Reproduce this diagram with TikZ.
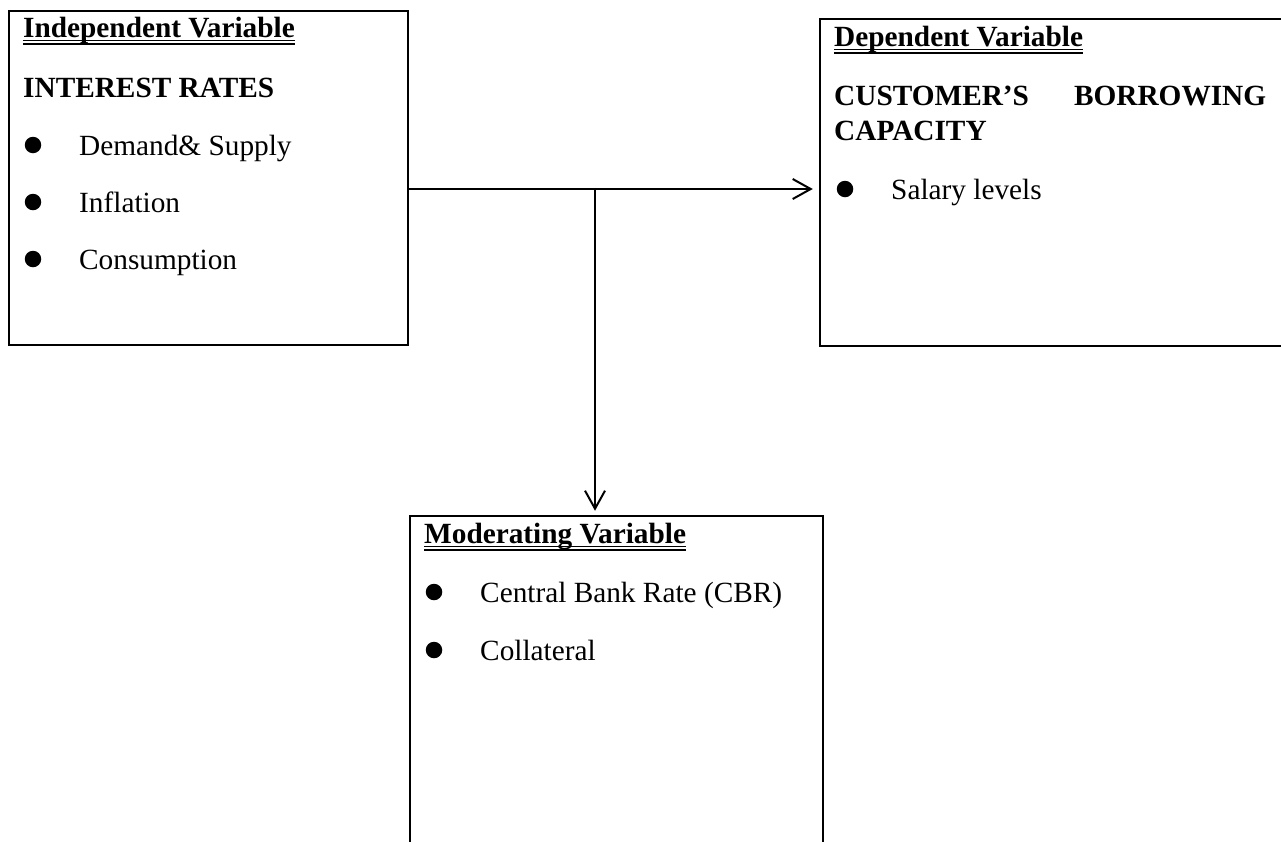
\documentclass[tikz,border=0pt]{standalone}
\usepackage{fontspec}
\setmainfont{Liberation Serif}
\usetikzlibrary{arrows.meta}
\tikzset{box/.style = {draw, rectangle, line width=2.5pt, inner sep=0pt}}
\tikzset{txt/.style = {anchor=base west, inner sep=0pt, font=\fontsize{29.3}{35}\selectfont}}
\tikzset{head/.style = {txt, font=\fontsize{29.3}{35}\selectfont\bfseries}}
\tikzset{dot/.style = {circle, fill, inner sep=0pt, minimum size=16.5pt}}
\tikzset{link/.style = {line width=2pt, -{Straight Barb[length=18pt, width=20pt, line width=2pt]}}}

\begin{document}
\begin{tikzpicture}[x=1pt, y=-1pt]
\useasboundingbox (0,0) rectangle (1281,841);

\node[box, minimum width=399pt, minimum height=334pt] (indep) at (208.5,178) {};
\node[box, minimum width=475pt, minimum height=327pt] (dep) at (1057.5,182.5) {};
\node[box, minimum width=413pt, minimum height=344pt] (mod) at (616.5,688) {};

% independent variable
\node[head] (hindep) at (23,37) {Independent Variable};
\node[head] (rates) at (23,97) {INTEREST RATES};
\node[dot] (d1) at (33,145) {};
\node[txt] (demand) at (79,155) {Demand\& Supply};
\node[dot] (d2) at (33,202) {};
\node[txt] (inflation) at (79,212) {Inflation};
\node[dot] (d3) at (33,259) {};
\node[txt] (consumption) at (79,269) {Consumption};

% dependent variable
\node[head] (hdep) at (834,46) {Dependent Variable};
\node[head, text width=432pt, align=justify] (capacity) at (834,105) {CUSTOMER’S BORROWING CAPACITY};
\node[dot] (d4) at (845,189) {};
\node[txt] (salary) at (891,199) {Salary levels};

% moderating variable
\node[head] (hmod) at (424,543) {Moderating Variable};
\node[dot] (d5) at (434,592) {};
\node[txt] (cbr) at (480,602) {Central Bank Rate (CBR)};
\node[dot] (d6) at (434,650) {};
\node[txt] (collateral) at (480,660) {Collateral};

\foreach \h in {hindep, hdep, hmod} {
  \draw[line width=1.2pt] ([yshift=-3.5pt]\h.base west) -- ([yshift=-3.5pt]\h.base east);
  \draw[line width=1.2pt] ([yshift=-7pt]\h.base west) -- ([yshift=-7pt]\h.base east);
}

\coordinate (fork) at (595,189);
\draw[line width=2pt] (fork -| indep.east) -- (fork);
\draw[link, shorten >=6pt] (fork) -- (fork -| dep.west);
\draw[link, shorten >=4pt] (fork) -- (fork |- mod.north);
\end{tikzpicture}
\end{document}
